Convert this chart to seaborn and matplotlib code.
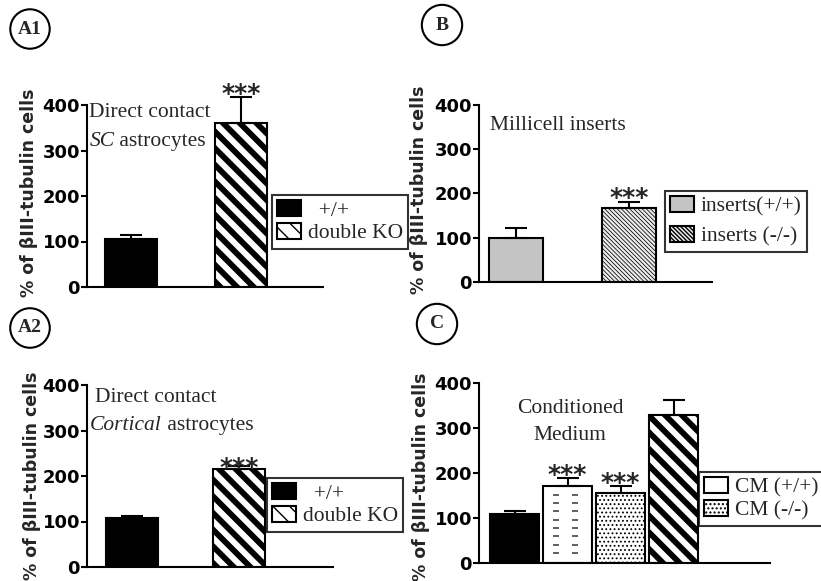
import numpy as np
import matplotlib
matplotlib.use("Agg")
import matplotlib.pyplot as plt
from matplotlib.patches import Patch
import seaborn as sns

# panel A1: direct contact with SC astrocytes
a1_groups = ["+/+", "double KO"]
a1_mean = [105, 360]
a1_sem = [9, 58]

# panel B: millicell inserts
b_groups = ["inserts(+/+)", "inserts (-/-)"]
b_mean = [100, 167]
b_sem = [23, 14]

# panel A2: direct contact with cortical astrocytes
a2_groups = ["+/+", "double KO"]
a2_mean = [108, 215]
a2_sem = [4, 8]

# panel C: conditioned medium
c_groups = ["+/+", "CM (+/+)", "CM (-/-)", "double KO"]
c_mean = [108, 171, 156, 328]
c_sem = [7, 18, 16, 34]

yticks = [0, 100, 200, 300, 400]
ylabel = "% of \u03b2III-tubulin cells"

sns.set_style("ticks")
plt.rcParams["font.family"] = ["DejaVu Sans"]
plt.rcParams["hatch.linewidth"] = 1.0

SERIF = "Liberation Serif"
W, H = 821, 581
STRIPES = "\\\\"
FINE = "\\\\\\\\\\\\\\\\"
DOTS = "...."

fig = plt.figure(figsize=(8.21, 5.81), dpi=100)


def px_rect(left, bottom, width, height):
    return [left / W, bottom / H, width / W, height / H]


def draw_panel(ax, groups, means, sems, fills, hatches, hatch_lw, width, xlim,
               stars, star_dy):
    sns.barplot(x=groups, y=means, hue=groups, palette=fills, width=width,
                edgecolor="black", linewidth=1.5, legend=False, ax=ax,
                saturation=1)
    for p, h, lw in zip(ax.patches, hatches, hatch_lw):
        if h:
            p.set_hatch(h)
            if hasattr(p, "set_hatch_linewidth"):
                p.set_hatch_linewidth(lw)
    xs = np.arange(len(groups))
    ax.errorbar(xs, means, yerr=[np.zeros(len(means)), sems], fmt="none",
                ecolor="black", elinewidth=1.5, capsize=8, capthick=1.5,
                clip_on=False, zorder=5)
    for i in stars:
        ax.annotate("***", xy=(xs[i], means[i] + sems[i]), xytext=(0, star_dy),
                    textcoords="offset pixels", ha="center", va="center",
                    fontsize=18, fontweight="bold", annotation_clip=False,
                    zorder=6)
    ax.set_xlim(*xlim)
    ax.set_ylim(0, 400)
    ax.set_yticks(yticks)
    ax.set_yticklabels([str(t) for t in yticks], fontsize=13, fontweight="bold")
    ax.set_xticks([])
    ax.set_xlabel("")
    ax.set_ylabel(ylabel, fontsize=12.5, fontweight="bold")
    ax.tick_params(axis="y", length=4, width=1.5, pad=1, colors="black")
    for s in ["top", "right"]:
        ax.spines[s].set_visible(False)
    for s in ["left", "bottom"]:
        ax.spines[s].set_linewidth(1.5)
        ax.spines[s].set_color("black")
    ax.set_facecolor("white")


def add_legend(ax, handles, labels, x_px, y_px, spacing=0.1):
    leg = ax.legend(handles, labels, loc="upper left",
                    bbox_to_anchor=(x_px / W, 1 - y_px / H),
                    bbox_transform=fig.transFigure, frameon=True, fancybox=False,
                    borderpad=0.25, labelspacing=spacing, handlelength=1.1,
                    handleheight=0.75, handletextpad=0.3, borderaxespad=0,
                    prop={"family": SERIF, "size": 15.5})
    leg.get_frame().set_edgecolor("black")
    leg.get_frame().set_linewidth(1.5)
    leg.set_zorder(10)
    return leg


def hatched_patch(fc, hatch, lw):
    p = Patch(facecolor=fc, edgecolor="black", hatch=hatch, linewidth=1.5)
    if hasattr(p, "set_hatch_linewidth"):
        p.set_hatch_linewidth(lw)
    return p


# ---- A1 ----
ax1 = fig.add_axes(px_rect(87, 294, 236, 182))
draw_panel(ax1, a1_groups, a1_mean, a1_sem, ["black", "white"], [None, STRIPES],
           [1, 4.2], 0.47, (-0.4, 1.745), [1], 3)
ax1.yaxis.set_label_coords(-0.208, 0.52)
t = ax1.text(0.01, 0.96, "Direct contact", transform=ax1.transAxes,
             family=SERIF, fontsize=15.5, va="center", ha="left")
t = ax1.text(0.01, 0.80, "SC", transform=ax1.transAxes, family=SERIF,
             style="italic", fontsize=15.5, va="center", ha="left")
ax1.annotate(" astrocytes", xy=(1, 0), xycoords=t, va="bottom", ha="left",
             family=SERIF, fontsize=15.5)
add_legend(ax1, [hatched_patch("black", None, 1),
                 hatched_patch("white", STRIPES, 3)],
           ["  +/+", "double KO"], 272, 195)

# ---- B ----
axb = fig.add_axes(px_rect(479, 299, 233, 177))
draw_panel(axb, b_groups, b_mean, b_sem, ["#c4c4c4", "#ececec"],
           [None, FINE], [1, 0.55], 0.48, (-0.33, 1.74), [1], 4)
axb.yaxis.set_label_coords(-0.219, 0.52)
axb.text(0.047, 0.887, "Millicell inserts", transform=axb.transAxes,
         family=SERIF, fontsize=15.5, va="center", ha="left")
add_legend(axb, [hatched_patch("#c4c4c4", None, 1),
                 hatched_patch("#ececec", FINE, 0.55)],
           b_groups, 665, 191, spacing=0.45)

# ---- A2 ----
ax2 = fig.add_axes(px_rect(87, 14, 246, 182))
draw_panel(ax2, a2_groups, a2_mean, a2_sem, ["black", "white"], [None, STRIPES],
           [1, 4.2], 0.48, (-0.42, 1.88), [1], -2)
ax2.yaxis.set_label_coords(-0.187, 0.5)
ax2.text(0.033, 0.93, "Direct contact", transform=ax2.transAxes,
         family=SERIF, fontsize=15.5, va="center", ha="left")
t = ax2.text(0.012, 0.78, "Cortical", transform=ax2.transAxes, family=SERIF,
             style="italic", fontsize=15.5, va="center", ha="left")
ax2.annotate(" astrocytes", xy=(1, 0), xycoords=t, va="bottom", ha="left",
             family=SERIF, fontsize=15.5)
add_legend(ax2, [hatched_patch("black", None, 1),
                 hatched_patch("white", STRIPES, 3)],
           ["  +/+", "double KO"], 267, 478)

# ---- C ----
axc = fig.add_axes(px_rect(479, 18, 291, 180))
draw_panel(axc, c_groups, c_mean, c_sem, ["black", "white", "white", "white"],
           [None, None, DOTS, STRIPES], [1, 1, 0.8, 4.2], 0.93, (-0.67, 4.82),
           [1, 2], 3)
axc.yaxis.set_label_coords(-0.168, 0.48)
# short horizontal dashes texture on the CM (+/+) bar
p = axc.patches[1]
x0, w, top = p.get_x(), p.get_width(), p.get_height()
rows = np.arange(22, top - 10, 18.5)
for fx in (0.27, 0.66):
    axc.plot(np.full(len(rows), x0 + fx * w), rows, ls="none", marker="_",
             ms=5, mew=1.2, color="#444444", zorder=3)
axc.text(0.313, 0.86, "Conditioned", transform=axc.transAxes, family=SERIF,
         fontsize=15.5, va="center", ha="center")
axc.text(0.313, 0.71, "Medium", transform=axc.transAxes, family=SERIF,
         fontsize=15.5, va="center", ha="center")
hp = Patch(facecolor="white", edgecolor="black", linewidth=1.5)
add_legend(axc, [hp, hatched_patch("white", DOTS, 0.8)],
           ["CM (+/+)", "CM (-/-)"], 699, 472)

# circled panel letters
for lab, cx, cy, pad in [("A1", 30, 29, 0.4), ("B", 442, 25, 0.6),
                         ("A2", 30, 328, 0.4), ("C", 437, 324, 0.6)]:
    fig.text(cx / W, 1 - cy / H, lab, ha="center", va="center", family=SERIF,
             fontweight="bold", fontsize=14,
             bbox=dict(boxstyle=f"circle,pad={pad}", fc="white", ec="black", lw=1.5))

fig.savefig("out.png", dpi=100)
